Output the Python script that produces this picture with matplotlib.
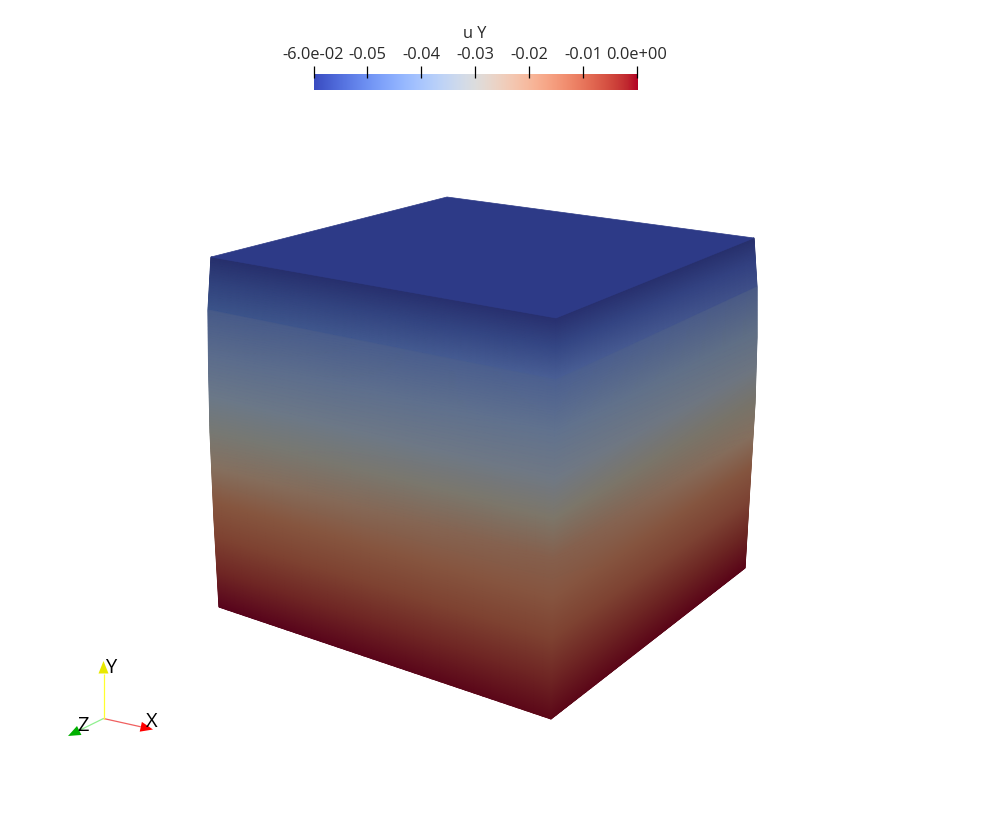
import numpy as np
import matplotlib
matplotlib.use("Agg")
import matplotlib.pyplot as plt
from matplotlib.colors import to_rgb

plt.rcParams['font.family'] = ['Open Sans', 'DejaVu Sans']

# colorbar
bar_ticks = [-0.06, -0.05, -0.04, -0.03, -0.02, -0.01, 0.0]
bar_labels = ['-6.0e-02', '-0.05', '-0.04', '-0.03', '-0.02', '-0.01', '0.0e+00']
bar_title = 'u Y'

# cube outline, picture pixels, read down each vertical edge
edge_t = [0.0, 0.15, 0.30, 0.50, 0.75, 1.0]
left_x = [211, 208, 208.5, 210, 214, 219]
left_y = [257, 310, 362, 432, 520, 607]
mid_x = [556, 556, 555, 554, 552.5, 551]
mid_y = [318, 380, 440, 519, 619, 719]
right_x = [754, 757, 757, 755, 750, 745]
right_y = [238, 287, 337, 403, 485, 568]
top_x = [211, 447, 754, 556]
top_y = [257, 197, 238, 318]
top_color = '#2d3a87'

# shaded colours read down each vertical edge, same t for all three
shade_t = [0.0, 0.07, 0.149, 0.151, 0.28, 0.40, 0.50, 0.60, 0.70, 0.80, 0.90, 1.0]
shade_left = ['#262f6c', '#30417c', '#3b5389', '#475a88', '#5b6c8c', '#6b7888', '#777873',
              '#85705f', '#86563f', '#7e4231', '#6f2624', '#58041c']
shade_mid = ['#28306f', '#344684', '#4a5f95', '#4c6090', '#61728e', '#707884', '#7d7669',
             '#855f4c', '#86543f', '#7e4231', '#6f2624', '#5c0818']
shade_right = ['#27306c', '#324080', '#3f4f88', '#4a5a85', '#5f6e85', '#6e7580', '#787369',
               '#856f5e', '#84553f', '#7c4233', '#6b2522', '#5a0518']

# orientation triad
triad_origin = (103.5, 718.5)
triad_tips = {'X': (153, 729.5), 'Y': (103.5, 661), 'Z': (68, 736)}
triad_colors = {'X': '#ff0000', 'Y': '#e8e800', 'Z': '#00b000'}
triad_lines = {'X': '#f06060', 'Y': '#ffff30', 'Z': '#90f090'}
triad_text = {'X': (152, 722), 'Y': (110.5, 668), 'Z': (83, 726)}

fig = plt.figure(figsize=(9.81, 8.22), dpi=100)
ax = fig.add_axes([0, 0, 1, 1])
ax.set_xlim(0, 981)
ax.set_ylim(822, 0)
ax.axis('off')


def edge_colors(t, colors):
    rgb = np.array([to_rgb(c) for c in colors])
    return np.column_stack([np.interp(t, shade_t, rgb[:, i]) for i in range(3)])


def draw_face(x0, y0, c0, x1, y1, c1):
    t = np.linspace(0, 1, 600)
    s = np.linspace(0, 1, 40)
    xa = np.interp(t, edge_t, x0)
    ya = np.interp(t, edge_t, y0)
    xb = np.interp(t, edge_t, x1)
    yb = np.interp(t, edge_t, y1)
    X = np.outer(xa, 1 - s) + np.outer(xb, s)
    Y = np.outer(ya, 1 - s) + np.outer(yb, s)
    ca = edge_colors(t, c0)
    cb = edge_colors(t, c1)
    # blend the two edge colours across the face
    C = ca[:, None, :] * (1 - s)[None, :, None] + cb[:, None, :] * s[None, :, None]
    ax.pcolormesh(X, Y, C, shading='gouraud', rasterized=True)


draw_face(left_x, left_y, shade_left, mid_x, mid_y, shade_mid)
draw_face(mid_x, mid_y, shade_mid, right_x, right_y, shade_right)
ax.fill(top_x, top_y, color=top_color, lw=0.5, joinstyle='round')

# triad
for name, tip in triad_tips.items():
    ox, oy = triad_origin
    dx, dy = tip[0] - ox, tip[1] - oy
    length = np.hypot(dx, dy)
    ux, uy = dx / length, dy / length
    head = 12.5
    bx, by = tip[0] - ux * head, tip[1] - uy * head
    ax.plot([ox, bx], [oy, by], color=triad_lines[name], lw=0.9, solid_capstyle='butt')
    ax.fill([tip[0], bx - uy * 5, bx + uy * 5], [tip[1], by + ux * 5, by - ux * 5],
            color=triad_colors[name], lw=0)
    ax.text(triad_text[name][0], triad_text[name][1], name, fontsize=14.5, color='black',
            ha='center', va='center')

# colorbar, axes spans the ticks' midpoint to the bar bottom
W, H = 981, 822
cax = fig.add_axes([313.5 / W, 1 - 90 / H, 323.5 / W, 18 / H])
cax.imshow(np.linspace(0, 1, 256)[None, :], cmap='coolwarm', aspect='auto',
           extent=(-0.06, 0, 0, 16))
cax.set_xlim(-0.06, 0)
cax.set_ylim(0, 18)
for sp in cax.spines.values():
    sp.set_visible(False)
cax.set_yticks([])
cax.xaxis.tick_top()
cax.set_xticks(bar_ticks)
cax.set_xticklabels(bar_labels, fontsize=11.8, color='#2a2a2a')
cax.tick_params(axis='x', direction='inout', length=8.6, width=0.9, pad=2.5, color='black')
fig.text(475 / W, 1 - 34 / H, bar_title, fontsize=11.8, color='#2a2a2a', ha='center', va='center')

plt.savefig("out.png", dpi=100)
